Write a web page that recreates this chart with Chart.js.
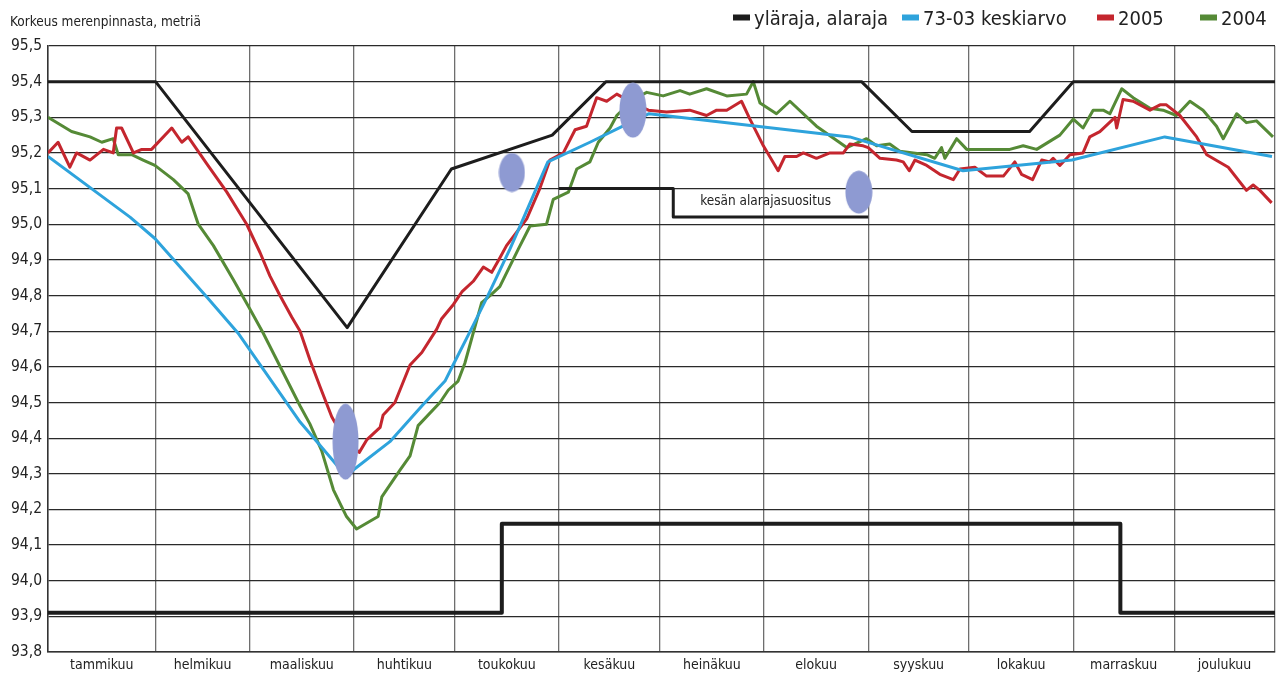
<!DOCTYPE html>
<html>
<head>
<meta charset="utf-8">
<script src="https://cdn.jsdelivr.net/npm/chart.js@4.4.1/dist/chart.umd.min.js"></script>
<style>
  html, body { margin: 0; padding: 0; background: #fff; }
</style>
</head>
<body>
<canvas id="chart" width="1283" height="675"></canvas>
<script>
// x = day of year (0..365), y = metres above sea level
const monthNames = ['tammikuu', 'helmikuu', 'maaliskuu', 'huhtikuu', 'toukokuu', 'kesäkuu',
                    'heinäkuu', 'elokuu', 'syyskuu', 'lokakuu', 'marraskuu', 'joulukuu'];
const monthStarts = [0, 32, 60, 91, 121, 152, 182, 213, 244, 274, 305, 335, 365];

// yläraja
const upperLimit = [[0, 95.40], [32, 95.40], [89, 94.71], [120, 95.155], [150, 95.25], [166, 95.40],
                    [242, 95.40], [257, 95.26], [292, 95.26], [305, 95.40], [365, 95.40]];
// alaraja
const lowerLimit = [[0, 93.91], [135, 93.91], [135, 94.16], [319, 94.16], [319, 93.91], [365, 93.91]];
// kesän alarajasuositus
const summerLow = [[152, 95.10], [186, 95.10], [186, 95.02], [244, 95.02]];

// 73-03 keskiarvo
const avg7303 = [[0, 95.19], [24.4, 95.02], [31.8, 94.96], [47.3, 94.795], [56.5, 94.695], [75, 94.445],
                 [84.5, 94.34], [88.9, 94.29], [90.7, 94.31], [101.7, 94.39], [111.2, 94.49], [118.1, 94.56],
                 [120.5, 94.605], [126.4, 94.715], [130.6, 94.795], [137.4, 94.93], [139.5, 94.975],
                 [148.7, 95.175], [161.2, 95.23], [171, 95.275], [178.8, 95.31], [238.5, 95.245],
                 [272.2, 95.15], [304.6, 95.18], [332.2, 95.245], [364.1, 95.19]];

const y2005 = [[0, 95.20], [3, 95.23], [6.5, 95.16], [8.5, 95.20], [12.5, 95.18], [16.5, 95.21], [19.4, 95.20],
               [20.4, 95.27], [21.9, 95.27], [25.4, 95.20], [27.9, 95.21], [30.8, 95.21], [36.8, 95.27],
               [39.8, 95.23], [41.7, 95.245], [47.2, 95.17], [53.2, 95.09], [59.1, 95.00], [63.1, 94.92],
               [66, 94.855], [69, 94.80], [72.5, 94.74], [75, 94.70], [77.9, 94.62], [80.9, 94.545],
               [84.4, 94.46], [88, 94.40], [92.6, 94.36], [94.8, 94.395], [98.8, 94.43], [99.7, 94.465],
               [103.2, 94.50], [104.7, 94.535], [107.7, 94.605], [111.2, 94.64], [115.6, 94.705],
               [117.1, 94.735], [120.6, 94.775], [123.1, 94.81], [126.5, 94.84], [129.5, 94.88],
               [132, 94.865], [134.4, 94.905], [136.4, 94.94], [142.4, 95.015], [146.3, 95.10],
               [149.3, 95.18], [153.3, 95.20], [156.8, 95.265], [160.2, 95.275], [163.2, 95.355],
               [166.2, 95.345], [169.2, 95.365], [174, 95.34], [178.6, 95.32], [184, 95.315],
               [190.9, 95.32], [195.9, 95.305], [198.9, 95.32], [201.9, 95.32], [206.3, 95.345],
               [208.8, 95.295], [212.8, 95.22], [217.2, 95.15], [219.2, 95.19], [222.7, 95.19],
               [224.7, 95.20], [228.6, 95.185], [232.6, 95.20], [236.6, 95.20], [238.5, 95.225],
               [242.5, 95.22], [244, 95.215], [247.5, 95.185], [252.4, 95.18], [254.4, 95.175],
               [256.2, 95.15], [257.9, 95.18], [261.4, 95.165], [265.3, 95.14], [269.3, 95.125],
               [271.3, 95.155], [275.7, 95.16], [279.2, 95.135], [284.2, 95.135], [287.6, 95.175],
               [289.6, 95.14], [292.9, 95.125], [295.6, 95.18], [298, 95.175], [299, 95.185],
               [301, 95.165], [304, 95.195], [307.9, 95.20], [309.9, 95.245], [312.9, 95.26],
               [317.4, 95.30], [317.9, 95.27], [319.8, 95.35], [322.8, 95.345], [327.8, 95.32],
               [330.8, 95.335], [332.7, 95.335], [336.7, 95.305], [341.7, 95.245], [344.7, 95.195],
               [351.1, 95.16], [356.5, 95.095], [358.5, 95.11], [360.5, 95.095], [364, 95.06]];

const y2004 = [[0, 95.30], [7, 95.26], [12.5, 95.245], [16, 95.23], [19.4, 95.24], [20.9, 95.195],
               [24.9, 95.195], [28.3, 95.18], [31.8, 95.165], [37.3, 95.125], [41.7, 95.085], [44.7, 95.00],
               [49.2, 94.94], [55.1, 94.845], [59.6, 94.77], [64, 94.695], [75, 94.49], [77.9, 94.44],
               [81.4, 94.365], [84.9, 94.255], [88.8, 94.18], [91.8, 94.145], [98.2, 94.18], [99.3, 94.235],
               [104.7, 94.31], [107.7, 94.35], [110.1, 94.435], [116.6, 94.50], [119.1, 94.535],
               [122, 94.56], [124, 94.61], [129, 94.78], [131.5, 94.80], [134.4, 94.825], [139.9, 94.93],
               [143.4, 94.995], [148.3, 95.00], [150.3, 95.07], [154.8, 95.09], [157.3, 95.155],
               [161.2, 95.175], [163.7, 95.23], [167.2, 95.27], [169.2, 95.305], [174, 95.35],
               [178.1, 95.37], [183, 95.36], [188, 95.375], [190.9, 95.365], [195.9, 95.38],
               [201.9, 95.36], [207.8, 95.365], [209.8, 95.40], [211.8, 95.34], [216.7, 95.31],
               [220.7, 95.345], [228.6, 95.275], [237.6, 95.215], [243.5, 95.24], [246.5, 95.22],
               [250.4, 95.225], [253.4, 95.205], [261.4, 95.195], [263.8, 95.185], [265.8, 95.215],
               [266.8, 95.185], [270.3, 95.24], [273.3, 95.21], [286.1, 95.21], [290.1, 95.22],
               [294.1, 95.21], [301, 95.25], [305, 95.295], [307.9, 95.27], [310.9, 95.32],
               [313.9, 95.32], [315.9, 95.31], [319.4, 95.38], [322.8, 95.355], [327.8, 95.325],
               [331.7, 95.32], [335.7, 95.305], [339.7, 95.345], [343.6, 95.32], [347.6, 95.275],
               [349.6, 95.24], [353.6, 95.31], [356.5, 95.285], [359.5, 95.29], [364.4, 95.245]];

// highlighted spots (ellipses)
const markers = [[88.5, 94.39], [138, 95.145], [174, 95.32], [241.2, 95.09]];
const markerSizes = [[27, 77], [27, 40], [28, 56], [28, 44]];

const titleText = 'Korkeus merenpinnasta, metriä';
const summerText = { x: 194, y: 95.065, text: 'kesän alarajasuositus' };
// legend box left edges, px
const legendBoxX = [733, 902, 1097, 1200];

const FONT = "'Liberation Sans Narrow', 'DejaVu Sans Condensed', 'Arial Narrow', sans-serif";
const TEXT = '#222';

const monthMids = [];
for (let i = 0; i < 12; i++) monthMids.push((monthStarts[i] + monthStarts[i + 1]) / 2);

function pts(arr) {
  return arr.map(p => ({ x: p[0], y: p[1] }));
}

function ellipseImg(w, h) {
  const c = document.createElement('canvas');
  c.width = w; c.height = h;
  const g = c.getContext('2d');
  g.fillStyle = '#8e9ad2';
  g.beginPath();
  g.ellipse(w / 2, h / 2, w / 2 - 0.5, h / 2 - 0.5, 0, 0, Math.PI * 2);
  g.fill();
  return c;
}

function lineSet(label, data, color, width, legend) {
  return {
    type: 'line', label: label, data: pts(data),
    borderColor: color, backgroundColor: color, borderWidth: width,
    pointRadius: 0, tension: 0, fill: false, inLegend: legend,
    borderJoinStyle: 'round'
  };
}

const textPlugin = {
  id: 'texts',
  afterDraw(chart) {
    const ctx = chart.ctx;
    const xs = chart.scales.x, ys = chart.scales.y;
    ctx.save();
    ctx.fillStyle = TEXT;
    ctx.textBaseline = 'alphabetic';
    ctx.font = '13.5px ' + FONT;
    ctx.fillText(titleText, 10, 26);

    ctx.textBaseline = 'middle';
    ctx.fillText(summerText.text, xs.getPixelForValue(summerText.x), ys.getPixelForValue(summerText.y));

    // legend
    ctx.font = '20px ' + FONT;
    ctx.textBaseline = 'alphabetic';
    const items = chart.data.datasets.filter(d => d.inLegend);
    items.forEach((d, i) => {
      const bx = legendBoxX[i];
      ctx.fillStyle = d.borderColor;
      ctx.fillRect(bx, 14.5, 17, 6);
      ctx.fillStyle = TEXT;
      ctx.fillText(d.label, bx + 21, 25);
    });
    ctx.restore();
  }
};

new Chart(document.getElementById('chart'), {
  data: {
    datasets: [
      {
        type: 'scatter', label: 'merkit', data: pts(markers),
        pointStyle: markerSizes.map(s => ellipseImg(s[0], s[1])),
        pointRadius: 14, inLegend: false
      },
      lineSet('yläraja, alaraja', upperLimit, '#1d1d1d', 3, true),
      lineSet('alaraja', lowerLimit, '#1d1d1d', 4, false),
      lineSet('kesän alarajasuositus', summerLow, '#1d1d1d', 3, false),
      lineSet('73-03 keskiarvo', avg7303, '#2ea3dc', 3, true),
      lineSet('2005', y2005, '#c4262e', 3, true),
      lineSet('2004', y2004, '#558a36', 3, true)
    ]
  },
  options: {
    responsive: false,
    animation: false,
    layout: { autoPadding: false, padding: { left: 0, right: 8, top: 46, bottom: 0 } },
    plugins: {
      legend: { display: false },
      tooltip: { enabled: false }
    },
    scales: {
      x: {
        type: 'linear', min: 0, max: 365,
        afterBuildTicks: axis => {
          axis.ticks = monthStarts.concat(monthMids).sort((a, b) => a - b).map(v => ({ value: v }));
        },
        afterFit: axis => { axis.height = 23; },
        ticks: {
          autoSkip: false, maxRotation: 0, padding: 5, color: TEXT,
          font: { family: FONT, size: 14 },
          callback: v => {
            const i = monthMids.indexOf(v);
            return i >= 0 ? monthNames[i] : '';
          }
        },
        grid: {
          drawTicks: false,
          lineWidth: 1.3,
          color: c => (c.tick && monthStarts.includes(c.tick.value)) ? '#6e6e6e' : 'rgba(0,0,0,0)'
        },
        border: { display: true, color: '#333', width: 1.5 }
      },
      y: {
        min: 93.8, max: 95.5,
        afterFit: axis => { axis.width = 48; },
        ticks: {
          stepSize: 0.1, padding: 6, color: TEXT,
          font: { family: FONT, size: 15.5 },
          callback: v => v.toFixed(1).replace('.', ',')
        },
        grid: { drawTicks: false, color: '#2a2a2a', lineWidth: 1.2 },
        border: { display: true, color: '#333', width: 1.5 }
      }
    }
  },
  plugins: [textPlugin]
});
</script>
</body>
</html>
